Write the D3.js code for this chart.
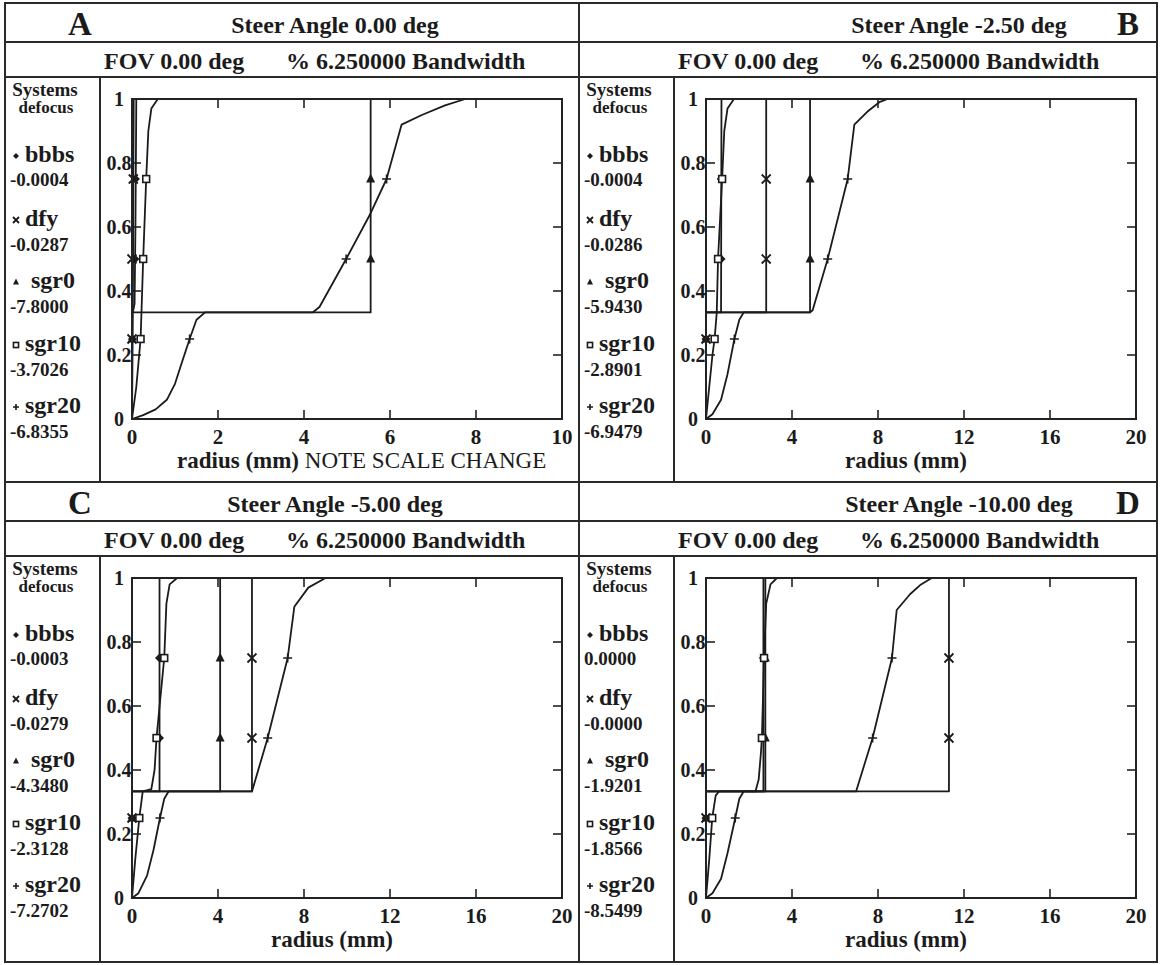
<!DOCTYPE html>
<html><head><meta charset="utf-8">
<script src="https://cdn.jsdelivr.net/npm/d3@7"></script>
<style>
html,body{margin:0;padding:0;background:#fff;}
svg{display:block;}
text{font-family:"Liberation Serif","Times New Roman",serif;fill:#1b1b1b;}
</style></head><body>
<svg id="fig" width="1161" height="965"></svg>
<script>
// ---------- labels ----------
const panelLetters = ["A", "B", "C", "D"];
const steerAngles = ["0.00", "-2.50", "-5.00", "-10.00"];
const fovLabel = "FOV 0.00 deg";
const bandwidthLabel = "% 6.250000 Bandwidth";
const systemNames = ["bbbs", "dfy", "sgr0", "sgr10", "sgr20"];
const defocusA = ["-0.0004", "-0.0287", "-7.8000", "-3.7026", "-6.8355"];
const defocusB = ["-0.0004", "-0.0286", "-5.9430", "-2.8901", "-6.9479"];
const defocusC = ["-0.0003", "-0.0279", "-4.3480", "-2.3128", "-7.2702"];
const defocusD = ["0.0000", "-0.0000", "-1.9201", "-1.8566", "-8.5499"];

// ---------- axes ----------
const radiusTicksA = [0, 2, 4, 6, 8, 10];
const radiusTicks = [0, 4, 8, 12, 16, 20];
const eeTicks = [0, 0.2, 0.4, 0.6, 0.8, 1];
const eeTickLabels = ["0", "0.2", "0.4", "0.6", "0.8", "1"];
const markerLevels = [0.25, 0.5, 0.75];

// ---------- encircled energy curves: [radius (mm), fraction] ----------
// Panel A, steer 0.00 deg
const curveA_bbbs  = [[0,0],[0.02,0.333],[0.06,0.36],[0.08,0.6],[0.1,1]];
const curveA_dfy   = [[0,0],[0,0.333],[0.02,0.34],[0.03,0.7],[0.04,1]];
const curveA_sgr0  = [[0,0],[0,0.333],[5.55,0.333],[5.55,1]];
const curveA_sgr10 = [[0,0],[0.1,0.1],[0.2,0.25],[0.22,0.333],[0.26,0.5],[0.33,0.75],[0.38,0.9],[0.45,0.97],[0.6,1]];
const curveA_sgr20 = [[0,0],[0.26,0.012],[0.55,0.03],[0.81,0.06],[1.0,0.11],[1.12,0.16],[1.34,0.25],[1.5,0.31],[1.7,0.333],[4.2,0.333],[4.36,0.35],[4.98,0.5],[5.55,0.643],[5.92,0.75],[6.27,0.92],[6.74,0.95],[7.28,0.98],[7.75,1]];
// Panel B, steer -2.50 deg
const curveB_bbbs  = [[0,0],[0,0.333],[0.7,0.333],[0.72,1]];
const curveB_dfy   = [[0,0],[0,0.333],[2.8,0.333],[2.8,1]];
const curveB_sgr0  = [[0,0],[0,0.333],[4.84,0.333],[4.84,1]];
const curveB_sgr10 = [[0,0],[0.15,0.1],[0.3,0.2],[0.4,0.25],[0.5,0.333],[0.56,0.5],[0.75,0.75],[0.85,0.9],[1.0,0.97],[1.3,1]];
const curveB_sgr20 = [[0,0],[0.3,0.015],[0.7,0.06],[1.0,0.14],[1.32,0.25],[1.55,0.31],[1.75,0.333],[4.84,0.333],[4.96,0.34],[5.66,0.5],[6.59,0.75],[6.9,0.92],[7.5,0.96],[8.06,0.99],[8.45,1]];
// Panel C, steer -5.00 deg
const curveC_bbbs  = [[0,0],[0,0.333],[1.28,0.333],[1.28,1]];
const curveC_dfy   = [[0,0],[0,0.333],[5.58,0.333],[5.58,1]];
const curveC_sgr0  = [[0,0],[0,0.333],[4.1,0.333],[4.1,1]];
const curveC_sgr10 = [[0,0],[0.15,0.12],[0.34,0.25],[0.5,0.333],[0.9,0.34],[1.05,0.4],[1.14,0.5],[1.5,0.75],[1.6,0.92],[1.75,0.98],[2.1,1]];
const curveC_sgr20 = [[0,0],[0.3,0.015],[0.7,0.07],[1.0,0.15],[1.3,0.25],[1.5,0.31],[1.7,0.333],[5.58,0.333],[6.31,0.5],[7.24,0.75],[7.55,0.91],[8.2,0.97],[9.0,1]];
// Panel D, steer -10.00 deg
const curveD_bbbs  = [[0,0],[0,0.333],[2.67,0.333],[2.67,1]];
const curveD_dfy   = [[0,0],[0,0.333],[11.3,0.333],[11.3,1]];
const curveD_sgr0  = [[0,0],[0,0.333],[2.76,0.333],[2.76,1]];
const curveD_sgr10 = [[0,0],[0.15,0.12],[0.29,0.25],[0.45,0.32],[0.6,0.333],[2.3,0.333],[2.45,0.37],[2.55,0.45],[2.6,0.5],[2.7,0.75],[2.8,0.92],[3.0,0.98],[3.3,1]];
const curveD_sgr20 = [[0,0],[0.3,0.015],[0.7,0.06],[1.0,0.14],[1.36,0.25],[1.55,0.31],[1.75,0.333],[6.98,0.333],[7.75,0.5],[8.65,0.75],[8.87,0.9],[9.5,0.95],[10.0,0.98],[10.5,1]];

// ---------- marker radii at 25 / 50 / 75 % energy ----------
const markA_bbbs = [0.01, 0.07, 0.08];
const markA_dfy  = [0, 0, 0.03];
const markA_sgr0 = [0, 5.55, 5.55];
const markA_sgr10 = [0.2, 0.26, 0.33];
const markA_sgr20 = [1.34, 4.98, 5.92];
const markB_bbbs = [0, 0.7, 0.71];
const markB_dfy  = [0, 2.8, 2.8];
const markB_sgr0 = [0, 4.84, 4.84];
const markB_sgr10 = [0.4, 0.56, 0.75];
const markB_sgr20 = [1.32, 5.66, 6.59];
const markC_bbbs = [0, 1.28, 1.28];
const markC_dfy  = [0, 5.58, 5.58];
const markC_sgr0 = [0, 4.1, 4.1];
const markC_sgr10 = [0.34, 1.14, 1.5];
const markC_sgr20 = [1.3, 6.31, 7.24];
const markD_bbbs = [0, 2.67, 2.67];
const markD_dfy  = [0, 11.3, 11.3];
const markD_sgr0 = [0, 2.76, 2.76];
const markD_sgr10 = [0.29, 2.6, 2.7];
const markD_sgr20 = [1.36, 7.75, 8.65];

// ---------- panel assembly ----------
const panels = [
  {L: 5,   T: 3,   W: 574, H: 479, letterRight: false, defocus: defocusA, xMax: 10, xTicks: radiusTicksA, note: true,
   curves: [curveA_bbbs, curveA_dfy, curveA_sgr0, curveA_sgr10, curveA_sgr20],
   marks: [markA_bbbs, markA_dfy, markA_sgr0, markA_sgr10, markA_sgr20]},
  {L: 579, T: 3,   W: 578, H: 479, letterRight: true, defocus: defocusB, xMax: 20, xTicks: radiusTicks, note: false,
   curves: [curveB_bbbs, curveB_dfy, curveB_sgr0, curveB_sgr10, curveB_sgr20],
   marks: [markB_bbbs, markB_dfy, markB_sgr0, markB_sgr10, markB_sgr20]},
  {L: 5,   T: 482, W: 574, H: 480, letterRight: false, defocus: defocusC, xMax: 20, xTicks: radiusTicks, note: false,
   curves: [curveC_bbbs, curveC_dfy, curveC_sgr0, curveC_sgr10, curveC_sgr20],
   marks: [markC_bbbs, markC_dfy, markC_sgr0, markC_sgr10, markC_sgr20]},
  {L: 579, T: 482, W: 578, H: 480, letterRight: true, defocus: defocusD, xMax: 20, xTicks: radiusTicks, note: false,
   curves: [curveD_bbbs, curveD_dfy, curveD_sgr0, curveD_sgr10, curveD_sgr20],
   marks: [markD_bbbs, markD_dfy, markD_sgr0, markD_sgr10, markD_sgr20]}
];

const ink = "#1b1b1b";
const svg = d3.select("#fig");
svg.append("rect").attr("width", 1161).attr("height", 965).attr("fill", "#fff");

// marker glyphs, one per system
function drawMarker(g, kind, x, y, s) {
  const h = s / 2;
  if (kind === 0) { // diamond
    g.append("path").attr("d", `M${x},${y - h}L${x + h},${y}L${x},${y + h}L${x - h},${y}Z`).attr("fill", ink);
  } else if (kind === 1) { // cross
    g.append("path").attr("d", `M${x - h},${y - h}L${x + h},${y + h}M${x - h},${y + h}L${x + h},${y - h}`)
      .attr("stroke", ink).attr("stroke-width", 1.8).attr("fill", "none");
  } else if (kind === 2) { // triangle
    g.append("path").attr("d", `M${x},${y - h * 1.2}L${x + h},${y + h * 0.8}L${x - h},${y + h * 0.8}Z`).attr("fill", ink);
  } else if (kind === 3) { // square
    g.append("rect").attr("x", x - h * 0.85).attr("y", y - h * 0.85).attr("width", h * 1.7).attr("height", h * 1.7)
      .attr("fill", "#fff").attr("stroke", ink).attr("stroke-width", 1.6);
  } else { // plus
    g.append("path").attr("d", `M${x - h},${y}L${x + h},${y}M${x},${y - h}L${x},${y + h}`)
      .attr("stroke", ink).attr("stroke-width", 1.6).attr("fill", "none");
  }
}

// table frame
const frame = svg.append("g").attr("stroke", "#2a2a2a").attr("stroke-width", 2).attr("fill", "none");
frame.append("rect").attr("x", 5).attr("y", 3).attr("width", 1152).attr("height", 959);
frame.append("line").attr("x1", 579).attr("x2", 579).attr("y1", 3).attr("y2", 962);
frame.append("line").attr("x1", 5).attr("x2", 1157).attr("y1", 482).attr("y2", 482);

panels.forEach((p, i) => {
  const g = svg.append("g");
  const L = p.L, T = p.T;

  // row rules and legend column rule
  frame.append("line").attr("x1", L).attr("x2", L + p.W).attr("y1", T + 39).attr("y2", T + 39);
  frame.append("line").attr("x1", L).attr("x2", L + p.W).attr("y1", T + 74).attr("y2", T + 74);
  frame.append("line").attr("x1", L + 95).attr("x2", L + 95).attr("y1", T + 74).attr("y2", T + p.H);

  // panel letter and steer angle title
  g.append("text").attr("x", p.letterRight ? L + 549 : L + 75).attr("y", T + 32)
    .attr("text-anchor", "middle").attr("font-size", 33).attr("font-weight", "bold").text(panelLetters[i]);
  g.append("text").attr("x", p.letterRight ? L + 380 : L + 330).attr("y", T + 30).attr("text-anchor", "middle")
    .attr("font-size", 24).attr("font-weight", "bold").text(`Steer Angle ${steerAngles[i]} deg`);

  // field of view / bandwidth row
  g.append("text").attr("x", L + 99).attr("y", T + 66).attr("font-size", 24).attr("font-weight", "bold").text(fovLabel);
  g.append("text").attr("x", L + 281).attr("y", T + 66).attr("font-size", 24).attr("font-weight", "bold").text(bandwidthLabel);

  // legend column
  g.append("text").attr("x", L + 40).attr("y", T + 93).attr("text-anchor", "middle")
    .attr("font-size", 19).attr("font-weight", "bold").text("Systems");
  g.append("text").attr("x", L + 41).attr("y", T + 110).attr("text-anchor", "middle")
    .attr("font-size", 17).attr("font-weight", "bold").text("defocus");
  const nameY = [159, 223, 285, 348, 410];
  const valY = [183, 248, 310, 373, 435];
  systemNames.forEach((name, k) => {
    drawMarker(g, k, L + 11, T + nameY[k] - 6, 6);
    g.append("text").attr("x", L + (k === 2 ? 26 : 20)).attr("y", T + nameY[k])
      .attr("font-size", 24).attr("font-weight", "bold").text(name);
    g.append("text").attr("x", L + 5).attr("y", T + valY[k])
      .attr("font-size", 19).attr("font-weight", "bold").text(p.defocus[k]);
  });

  // plot area
  const px0 = L + 127, py0 = T + 96, pw = 430, ph = 320;
  const x = d3.scaleLinear().domain([0, p.xMax]).range([px0, px0 + pw]);
  const y = d3.scaleLinear().domain([0, 1]).range([py0 + ph, py0]);

  const axes = g.append("g").attr("stroke", "#222").attr("stroke-width", 1.6);
  const tickLen = 9;
  p.xTicks.slice(1, -1).forEach(t => {
    axes.append("line").attr("x1", x(t)).attr("x2", x(t)).attr("y1", py0 + ph).attr("y2", py0 + ph - tickLen);
    axes.append("line").attr("x1", x(t)).attr("x2", x(t)).attr("y1", py0).attr("y2", py0 + tickLen);
  });
  eeTicks.slice(1, -1).forEach(t => {
    axes.append("line").attr("x1", px0).attr("x2", px0 + tickLen).attr("y1", y(t)).attr("y2", y(t));
    axes.append("line").attr("x1", px0 + pw).attr("x2", px0 + pw - tickLen).attr("y1", y(t)).attr("y2", y(t));
  });

  // curves
  const line = d3.line().x(d => x(d[0])).y(d => y(d[1]));
  p.curves.forEach(c => {
    g.append("path").attr("d", line(c)).attr("fill", "none").attr("stroke", ink).attr("stroke-width", 1.8)
      .attr("stroke-linejoin", "round");
  });
  // markers
  p.marks.forEach((m, k) => {
    m.forEach((r, j) => drawMarker(g, k, x(r), y(markerLevels[j]), k === 3 ? 8 : 9));
  });

  // frame of plot
  g.append("rect").attr("x", px0).attr("y", py0).attr("width", pw).attr("height", ph)
    .attr("fill", "none").attr("stroke", "#222").attr("stroke-width", 2);

  // tick labels
  p.xTicks.forEach(t => {
    g.append("text").attr("x", x(t)).attr("y", py0 + ph + 25).attr("text-anchor", "middle")
      .attr("font-size", 21).attr("font-weight", "bold").text(t);
  });
  eeTicks.forEach((t, k) => {
    g.append("text").attr("x", px0 - 13).attr("y", y(t)).attr("dy", "0.35em").attr("text-anchor", "middle")
      .attr("font-size", 20).attr("font-weight", "bold").text(eeTickLabels[k]);
  });

  // axis title
  if (p.note) {
    const t = g.append("text").attr("x", L + 172).attr("y", py0 + ph + 49).attr("font-size", 23);
    t.append("tspan").attr("font-weight", "bold").text("radius (mm) ");
    t.append("tspan").text("NOTE SCALE CHANGE");
  } else {
    g.append("text").attr("x", L + 327).attr("y", py0 + ph + 49).attr("text-anchor", "middle")
      .attr("font-size", 23).attr("font-weight", "bold").text("radius (mm)");
  }
});
</script>
</body></html>
